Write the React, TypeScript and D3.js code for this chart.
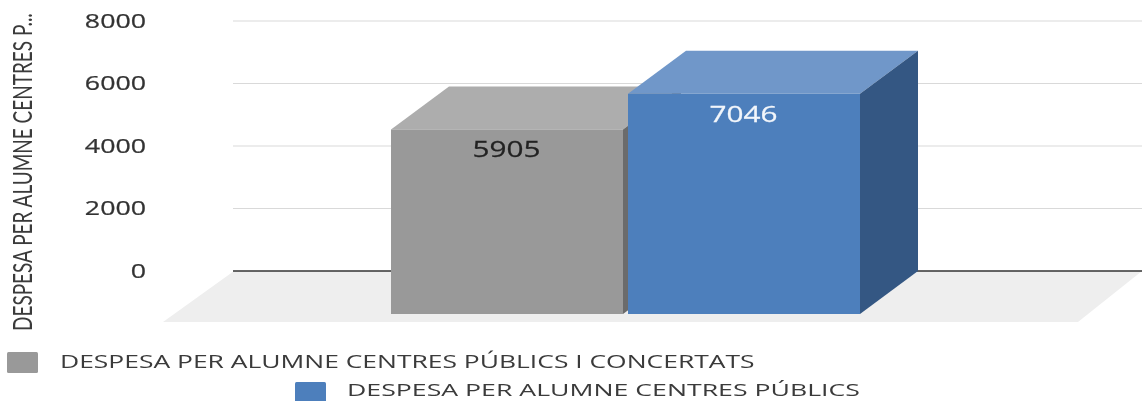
import React, { useLayoutEffect, useRef, useState } from "react";
import * as d3 from "d3";

const categories = ["DESPESA PER ALUMNE CENTRES PÚBLICS I CONCERTATS", "DESPESA PER ALUMNE CENTRES PÚBLICS"];
const values = [5905, 7046];
const ticks = [0, 2000, 4000, 6000, 8000];
const axisTitle = "DESPESA PER ALUMNE CENTRES P...";
const front = ["#999999", "#4d7fbc"];
const top = ["#adadad", "#7097c9"];
const side = ["#6b6b6b", "#345783"];
const labelColor = ["#222222", "#f2f6fb"];

const W = 1142, H = 401;
const DX = 58, DY = 43;
const y = d3.scaleLinear().domain([0, 8000]).range([271, 21]);
const x = d3.scaleBand<number>().domain([0, 1]).range([391, 860]).paddingInner(0.0211);
const pts = (p: number[][]) => p.map(q => q.join(",")).join(" ");

// Text squeezed or stretched horizontally to an exact width, like the reference's resampled image.
function FitText(props: any) {
  const { width, transform, anchor = "start", children, ...rest } = props;
  const ref = useRef<SVGTextElement>(null);
  const [sx, setSx] = useState(1);
  useLayoutEffect(() => {
    if (ref.current) setSx(width / ref.current.getComputedTextLength());
  }, [width, children]);
  return (
    <g transform={transform}>
      <text ref={ref} transform={`scale(${sx},1)`} textAnchor={anchor} {...rest}>{children}</text>
    </g>
  );
}

export default function App() {
  const base = y(0) + DY;
  return (
    <svg width={W} height={H} viewBox={`0 0 ${W} ${H}`}
      style={{ position: "absolute", left: 0, top: 0, background: "#fff" }} fontFamily="'Open Sans', sans-serif">
      <defs>
        <filter id="soft" x="-5%" y="-20%" width="110%" height="140%"><feGaussianBlur stdDeviation="0.45" /></filter>
      </defs>
      <polygon points={pts([[234, y(0)], [W, y(0)], [1078, 322], [163, 322]])} fill="#eeeeee" />
      {ticks.map(t => (
        <line key={t} x1={233} x2={W} y1={y(t)} y2={y(t)}
          stroke={t === 0 ? "#333333" : "#d9d9d9"} strokeWidth={t === 0 ? 1.5 : 1.2} />
      ))}
      <g filter="url(#soft)" fontSize={19.5} fill="#333333" stroke="#333333" strokeWidth={0.25}>
        {ticks.map(t => (
          <FitText key={t} transform={`translate(146,${y(t) + 6.5})`} anchor="end"
            width={String(t).length * 15.3}>{t}</FitText>
        ))}
      </g>
      {values.map((v, i) => {
        const x0 = x(i)!, x1 = x0 + x.bandwidth();
        const yt = y(v) + DY;
        return (
          <g key={i}>
            <polygon points={pts([[x0, yt], [x0 + DX, yt - DY], [x1 + DX, yt - DY], [x1, yt]])} fill={top[i]} />
            <polygon points={pts([[x1, yt], [x1 + DX, yt - DY], [x1 + DX, base - DY], [x1, base]])} fill={side[i]} />
            <rect x={x0} y={yt} width={x1 - x0} height={base - yt} fill={front[i]} />
            <FitText transform={`translate(${(x0 + x1) / 2 - 0.5},${yt + 28})`} anchor="middle" width={68}
              fontSize={22} fill={labelColor[i]} stroke={labelColor[i]} strokeWidth={0.25} filter="url(#soft)">{v}</FitText>
          </g>
        );
      })}
      <FitText transform="translate(32,331) rotate(-90)" width={318} fontSize={27} fill="#3a3a3a"
        filter="url(#soft)" fontFamily="Lato, sans-serif">{axisTitle}</FitText>
      <g filter="url(#soft)" fontSize={17.5} fill="#3a3a3a">
        <rect x={7} y={352} width={31} height={21} rx={1.5} fill={front[0]} />
        <FitText transform="translate(60,368)" width={695}>{categories[0]}</FitText>
        <rect x={295} y={382} width={31} height={21} rx={1.5} fill={front[1]} />
        <FitText transform="translate(347,395.5)" width={513} fontSize={17}>{categories[1]}</FitText>
      </g>
    </svg>
  );
}
